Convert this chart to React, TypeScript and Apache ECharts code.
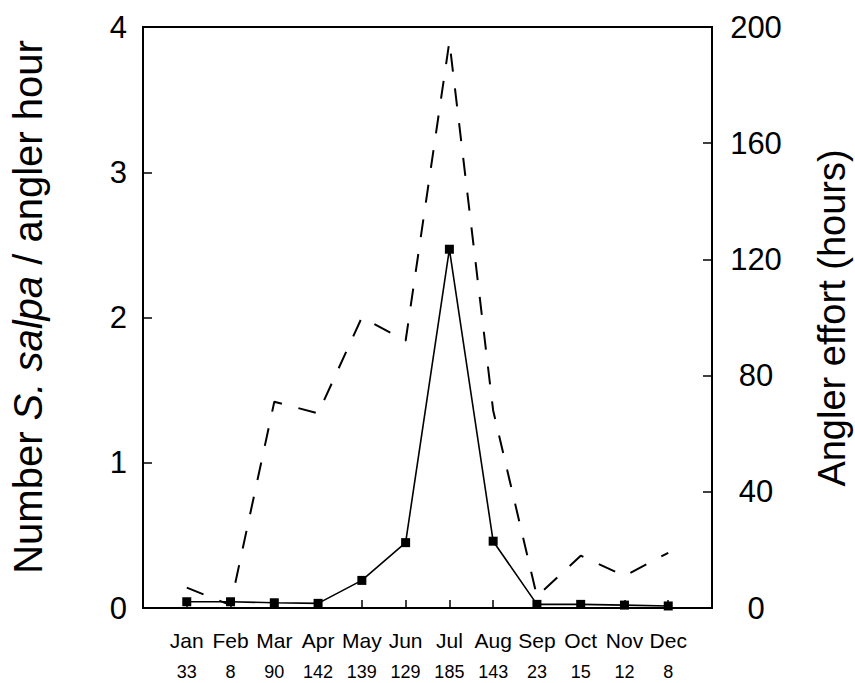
import React, { useEffect, useRef } from "react";
import * as echarts from "echarts";

const months = ["Jan", "Feb", "Mar", "Apr", "May", "Jun", "Jul", "Aug", "Sep", "Oct", "Nov", "Dec"];
const sampleCounts = [33, 8, 90, 142, 139, 129, 185, 143, 23, 15, 12, 8];
const catchPerHour = [0.043, 0.043, 0.036, 0.032, 0.19, 0.45, 2.47, 0.46, 0.025, 0.025, 0.02, 0.014];
const anglerEffort = [7, 1, 71, 67, 100, 92, 195, 68, 4, 18, 11, 19];

const FONT = "'Liberation Sans', Arial, Helvetica, sans-serif";

export default function App() {
  const ref = useRef<HTMLDivElement>(null);

  useEffect(() => {
    if (!ref.current) return;
    const chart = echarts.init(ref.current, null, { renderer: "svg" });
    const categories = ["", ...months, " "];
    const pad = (arr: number[]) => [null, ...arr, null];

    chart.setOption({
      animation: false,
      backgroundColor: "#ffffff",
      textStyle: { fontFamily: FONT, color: "#000" },
      grid: {
        left: 143,
        right: 143,
        top: 27,
        bottom: 75,
        show: true,
        borderColor: "#000",
        borderWidth: 2,
        backgroundColor: "transparent",
      },
      xAxis: {
        type: "category",
        data: categories,
        boundaryGap: false,
        axisLine: { show: true, lineStyle: { color: "#000", width: 2 } },
        axisTick: { show: true, inside: true, length: 8, lineStyle: { color: "#000", width: 1.5 } },
        splitLine: { show: false },
        axisLabel: {
          interval: 0,
          margin: 16,
          color: "#000",
          fontFamily: FONT,
          formatter: (_v: string, idx: number) => {
            if (idx < 1 || idx > months.length) return "";
            return `{m|${months[idx - 1]}}\n{n|${sampleCounts[idx - 1]}}`;
          },
          rich: {
            m: { fontSize: 21, lineHeight: 32, fontFamily: FONT, color: "#000" },
            n: { fontSize: 18, lineHeight: 32, fontFamily: FONT, color: "#000" },
          },
        },
      },
      yAxis: [
        {
          type: "value",
          min: 0,
          max: 4,
          interval: 1,
          position: "left",
          axisLine: { show: true, lineStyle: { color: "#000", width: 2 } },
          axisTick: { show: true, inside: true, length: 9, lineStyle: { color: "#000", width: 1.5 } },
          splitLine: { show: false },
          axisLabel: { fontSize: 31, margin: 16, color: "#000", fontFamily: FONT },
        },
        {
          type: "value",
          min: 0,
          max: 200,
          interval: 40,
          position: "right",
          axisLine: { show: true, lineStyle: { color: "#000", width: 2 } },
          axisTick: { show: true, inside: true, length: 9, lineStyle: { color: "#000", width: 1.5 } },
          splitLine: { show: false },
          axisLabel: { fontSize: 31, margin: 44, align: "center", color: "#000", fontFamily: FONT },
        },
      ],
      series: [
        {
          name: "Angler effort",
          type: "line",
          yAxisIndex: 1,
          data: pad(anglerEffort),
          showSymbol: false,
          symbol: "none",
          lineStyle: { color: "#000", width: 2, type: [18, 17] },
          z: 2,
        },
        {
          name: "Number S. salpa / angler hour",
          type: "line",
          yAxisIndex: 0,
          data: pad(catchPerHour),
          symbol: "rect",
          symbolSize: 9,
          itemStyle: { color: "#000" },
          lineStyle: { color: "#000", width: 1.6 },
          z: 3,
        },
      ],
      graphic: [
        {
          type: "text",
          x: 28,
          y: 307,
          rotation: Math.PI / 2,
          style: {
            text: "Number {i|S. salpa} / angler hour",
            fontSize: 40,
            fontFamily: FONT,
            fill: "#000",
            align: "center",
            verticalAlign: "middle",
            rich: {
              i: { fontSize: 40, fontStyle: "italic", fontFamily: FONT, fill: "#000" },
            },
          },
        },
        {
          type: "text",
          x: 832,
          y: 318,
          rotation: Math.PI / 2,
          style: {
            text: "Angler effort (hours)",
            fontSize: 38,
            fontFamily: FONT,
            fill: "#000",
            align: "center",
            verticalAlign: "middle",
          },
        },
      ],
    });

    return () => chart.dispose();
  }, []);

  return (
    <div
      ref={ref}
      style={{ position: "absolute", left: 0, top: 0, width: 855, height: 683 }}
    />
  );
}
